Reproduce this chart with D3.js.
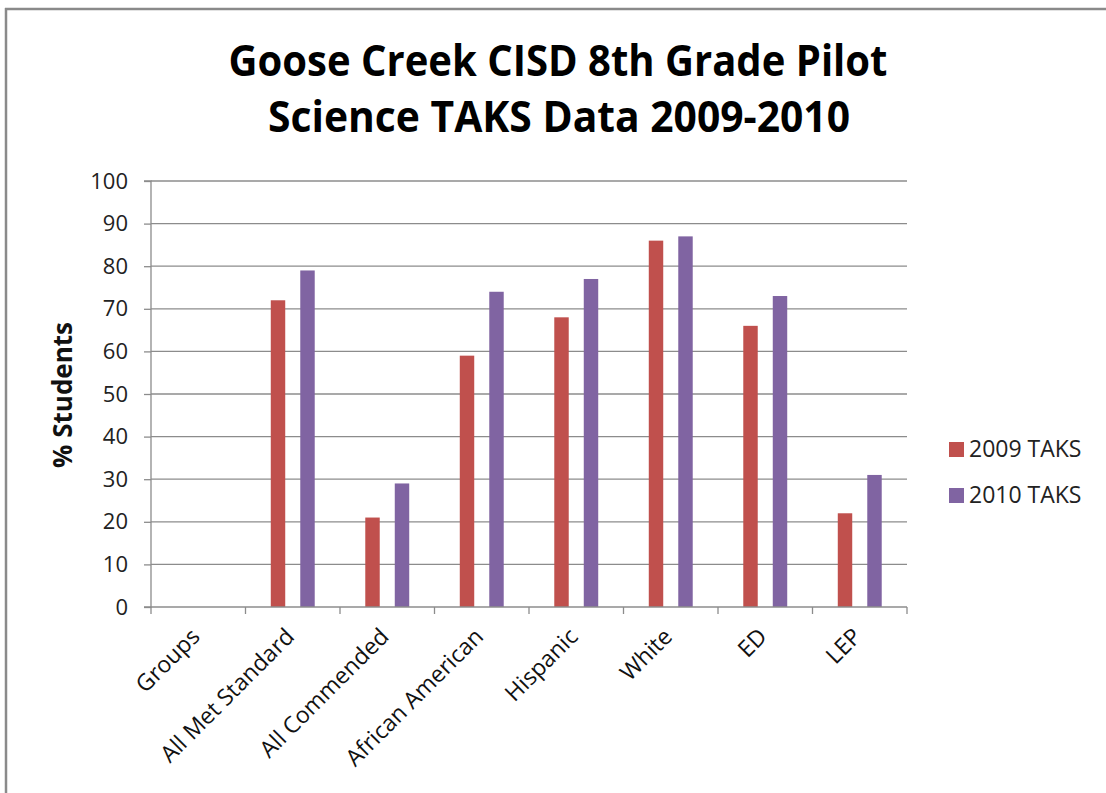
<!DOCTYPE html>
<html><head><meta charset="utf-8">
<script src="https://cdn.jsdelivr.net/npm/d3@7/dist/d3.min.js"></script>
<style>html,body{margin:0;background:#fff;overflow:hidden;} svg{display:block;overflow:hidden;font-family:"Open Sans","Noto Sans",sans-serif;}</style>
</head><body>
<script>
const categories = ["Groups","All Met Standard","All Commended","African American","Hispanic","White","ED","LEP"];
const seriesNames = ["2009 TAKS","2010 TAKS"];
const values2009 = [null,72,21,59,68,86,66,22];
const values2010 = [null,79,29,74,77,87,73,31];
const yTicks = [0,10,20,30,40,50,60,70,80,90,100];
const colors = ["#C0504D","#8064A2"];

const W=1106,H=793;
const svg=d3.select("body").append("svg").attr("width",W).attr("height",H);
svg.append("line").attr("x1",5).attr("x2",W).attr("y1",9).attr("y2",9)
  .attr("stroke","#8a8a8a").attr("stroke-width",2.5);
svg.append("line").attr("x1",6).attr("x2",6).attr("y1",8).attr("y2",H)
  .attr("stroke","#8a8a8a").attr("stroke-width",2.5);

const pL=151,pR=907,pT=181,pB=607;
const x=d3.scaleBand().domain(categories).range([pL,pR]);
const x1=d3.scaleBand().domain(seriesNames).range([0,x.bandwidth()]).paddingInner(0.51).paddingOuter(0.857);
const y=d3.scaleLinear().domain([0,100]).range([pB,pT]);

// gridlines
svg.append("g").selectAll("line").data(yTicks.filter(d=>d>0)).join("line")
  .attr("x1",pL).attr("x2",pR).attr("y1",d=>y(d)).attr("y2",d=>y(d))
  .attr("stroke","#8c8c8c").attr("stroke-width",1.3);

// bars
const series=[values2009,values2010];
series.forEach((vals,si)=>{
  svg.append("g").selectAll("rect").data(categories.map((c,i)=>({c,v:vals[i]})).filter(d=>d.v!=null)).join("rect")
    .attr("x",d=>x(d.c)+x1(seriesNames[si])).attr("width",x1.bandwidth())
    .attr("y",d=>y(d.v)).attr("height",d=>y(0)-y(d.v)).attr("fill",colors[si]);
});

// y axis
const yAxis=d3.axisLeft(y).tickValues(yTicks).tickSize(7).tickPadding(16);
const ga=svg.append("g").attr("transform",`translate(${pL},0)`).call(yAxis);
ga.select(".domain").attr("stroke","#8c8c8c").attr("stroke-width",1.3).attr("d",`M-7,${pT}H0V${pB}H-7`);
ga.selectAll(".tick line").attr("stroke","#8c8c8c").attr("stroke-width",1.3);
ga.selectAll(".tick text").attr("font-size",22).attr("fill","#222").attr("font-family","Open Sans");

// x axis
const xAxis=d3.axisBottom(x).tickSize(0).tickFormat("");
const gx=svg.append("g").attr("transform",`translate(0,${pB})`).call(xAxis);
gx.select(".domain").attr("stroke","#8c8c8c").attr("stroke-width",1.3).attr("d",`M${pL},0H${pR}`);
const bounds=[...categories.map(c=>x(c)),pR];
gx.selectAll(".bt").data(bounds).join("line").attr("x1",d=>d).attr("x2",d=>d).attr("y1",0).attr("y2",7)
  .attr("stroke","#8c8c8c").attr("stroke-width",1.3);
svg.append("g").selectAll("text").data(categories).join("text")
  .attr("transform",d=>`translate(${x(d)+x.bandwidth()/2+3},${pB+31}) rotate(-45)`)
  .attr("text-anchor","end").attr("font-size",23).attr("fill","#111").text(d=>d);

// y label
svg.append("text").attr("transform",`translate(72,395) rotate(-90)`).attr("text-anchor","middle")
  .attr("font-size",26).attr("font-weight","bold").attr("fill","#111").text("% Students");

// title
const t=svg.append("text").attr("text-anchor","middle").attr("font-size",43).attr("font-weight","bold").attr("fill","#000");
t.append("tspan").attr("x",558).attr("y",76).attr("textLength",659).attr("lengthAdjust","spacingAndGlyphs").text("Goose Creek CISD 8th Grade Pilot");
t.append("tspan").attr("x",559).attr("y",132).attr("textLength",582).attr("lengthAdjust","spacingAndGlyphs").text("Science TAKS Data 2009-2010");

// legend
const lg=svg.append("g").selectAll("g").data(seriesNames).join("g")
  .attr("transform",(d,i)=>`translate(949,${442+i*46})`);
lg.append("rect").attr("width",15).attr("height",15).attr("fill",(d,i)=>colors[i]);
lg.append("text").attr("x",20).attr("y",15).attr("font-size",23).attr("fill","#222").text(d=>d);
</script>
</body></html>
